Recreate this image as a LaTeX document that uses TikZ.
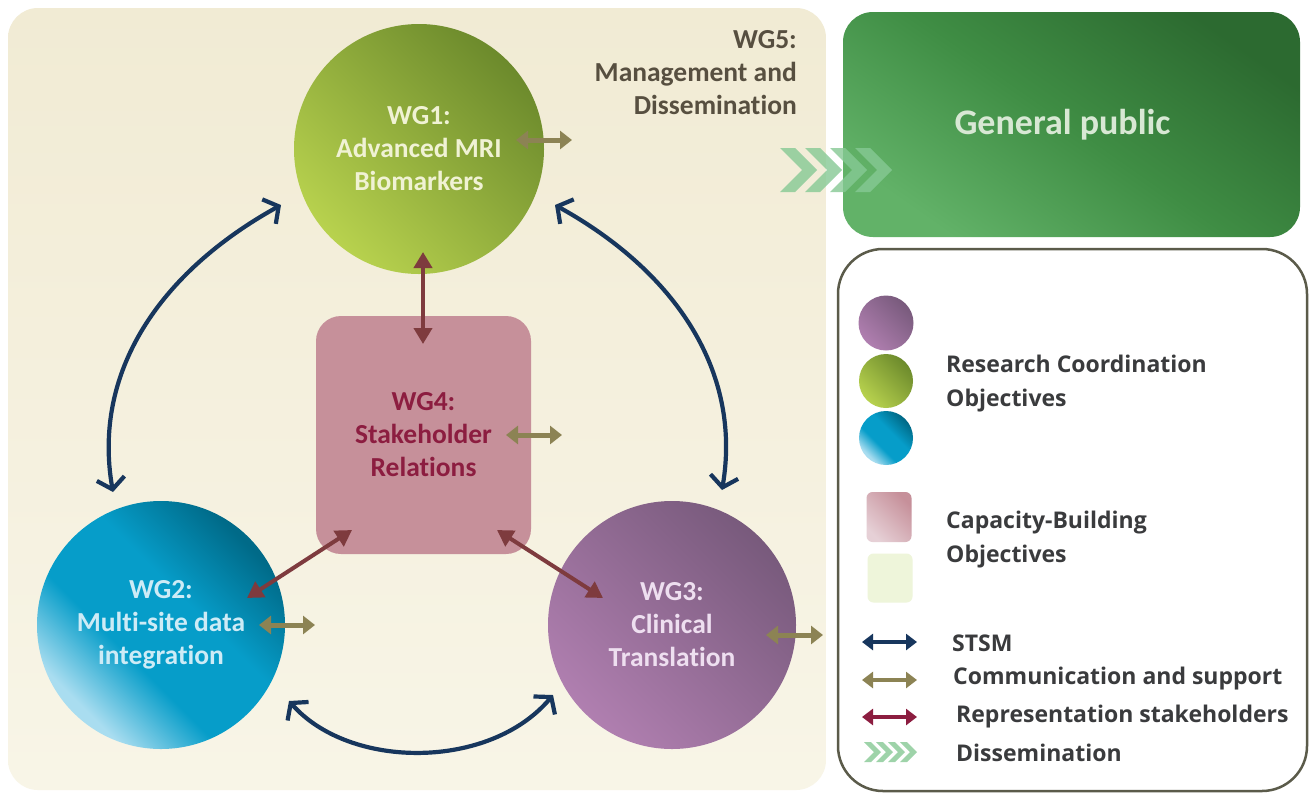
\documentclass[tikz,border=0pt]{standalone}
\usepackage{fontspec}
\setmainfont{Carlito}[Ligatures={NoCommon}]
\newfontfamily\legfam{Open Sans}[Ligatures={NoCommon}]
\usetikzlibrary{arrows.meta,shapes.geometric}
\definecolor{cream}{HTML}{F1EBD4}
\definecolor{creamlight}{HTML}{F8F5E7}
\definecolor{navy}{HTML}{17365D}
\definecolor{olivearr}{HTML}{8C8354}
\definecolor{maroonarr}{HTML}{7E3B3E}
\definecolor{crimson}{HTML}{8C1D40}
\definecolor{wgtext}{HTML}{F0F2D4}
\definecolor{wgtwotext}{HTML}{CDEBF6}
\definecolor{wgthreetext}{HTML}{EEDFF0}
\definecolor{wgfive}{HTML}{574F40}
\definecolor{legtext}{HTML}{3A3B3D}
\definecolor{greenD}{HTML}{6C8A2C}
\definecolor{greenL}{HTML}{B8D24E}
\definecolor{blueD}{HTML}{006A88}
\definecolor{blueM}{HTML}{069DC9}
\definecolor{blueL}{HTML}{A9DDF0}
\definecolor{purpD}{HTML}{785A7C}
\definecolor{purpL}{HTML}{B07FB0}
\definecolor{pinkbox}{HTML}{C6909A}
\definecolor{pinkL}{HTML}{E6D0D6}
\definecolor{gpD}{HTML}{2C6A30}
\definecolor{gpM}{HTML}{3F8D44}
\definecolor{gpL}{HTML}{62B268}
\definecolor{gptext}{HTML}{D8E8D4}
\definecolor{chev}{HTML}{86C994}
\definecolor{lightsq}{HTML}{EEF5DA}
\definecolor{legborder}{HTML}{5B5B4A}
\pgfdeclareverticalshading{bluesh}{100bp}{color(0bp)=(blueL); color(27bp)=(blueL); color(41bp)=(blueM); color(57bp)=(blueM); color(74bp)=(blueD); color(100bp)=(blueD)}
\tikzset{
  wgfont/.style={font=\fontsize{27.5}{33}\selectfont\bfseries, align=center},
  legfont/.style={font=\legfam\fontsize{23}{34}\selectfont\bfseries, text=legtext, anchor=west, align=left, inner sep=0pt},
  stsm/.style={draw=navy, line width=4.2pt, {Straight Barb[length=11pt,width=28pt]}-{Straight Barb[length=11pt,width=28pt]}},
  comm/.style={draw=olivearr, line width=5pt, {Triangle[length=12pt,width=18pt]}-{Triangle[length=12pt,width=18pt]}},
  repr/.style={draw=maroonarr, line width=4pt, {Triangle[length=16pt,width=18pt]}-{Triangle[length=16pt,width=18pt]}},
  legarrow/.style={line width=4.5pt, {Triangle[length=11pt,width=16pt]}-{Triangle[length=11pt,width=16pt]}},
  chevfill/.style={fill=chev, fill opacity=0.8},
  blueshade/.style={shading=bluesh, shading angle=-45}
}
\begin{document}
\begin{tikzpicture}[x=1pt,y=-1pt]
\useasboundingbox (0,0) rectangle (1312,796);
\fill[white] (0,0) rectangle (1312,796);
% background panel
\node[rectangle, rounded corners=30, minimum width=818, minimum height=782, top color=cream, bottom color=creamlight, inner sep=0pt] (panel) at (417,399) {};
% General public
\node[rectangle, rounded corners=30, minimum width=457, minimum height=225, top color=gpD, bottom color=gpL, middle color=gpM, shading angle=-35, text=gptext, font=\fontsize{36}{40}\selectfont\bfseries] (gp) at (1071.5,124.5) {\hspace{-18pt}General public};
% legend box
\node[rectangle, rounded corners=45, draw=legborder, line width=2.5pt, fill=white, minimum width=469, minimum height=542] (legend) at (1072.5,520) {};
% WG nodes
\node[circle, minimum size=250, inner sep=0pt, top color=greenD, bottom color=greenL, shading angle=-45, text=wgtext, wgfont] (wg1) at (419,149) {WG1:\\Advanced MRI\\Biomarkers};
\node[circle, minimum size=248, inner sep=0pt, blueshade, text=wgtwotext, wgfont] (wg2) at (161,625) {WG2:\\Multi-site data\\integration};
\node[circle, minimum size=248, inner sep=0pt, top color=purpD, bottom color=purpL, shading angle=-45, text=wgthreetext, wgfont] (wg3) at (672,625) {WG3:\\Clinical\\Translation};
\node[rectangle, rounded corners=25, minimum width=215, minimum height=238, fill=pinkbox, text=crimson, wgfont] (wg4) at (423.5,435) {WG4:\\Stakeholder\\Relations};
\node[anchor=north east, text=wgfive, wgfont, align=right, inner sep=0pt] (wg5) at (797,30) {WG5:\\Management and\\Dissemination};
% STSM arcs
\coordinate (a1) at (281,205); \coordinate (a2) at (113,492);
\coordinate (b1) at (555,205); \coordinate (b2) at (722,490);
\coordinate (c1) at (289,701); \coordinate (c2) at (553,695);
\draw[stsm] (a1) .. controls (160,272) and (92,372) .. (a2);
\draw[stsm] (b1) .. controls (676,272) and (742,372) .. (b2);
\draw[stsm] (c1) .. controls (350,770) and (490,770) .. (c2);
% representation arrows
\coordinate (r1a) at (423,252); \coordinate (r1b) at (423,344);
\coordinate (r2a) at (352,530); \coordinate (r2b) at (247,598);
\coordinate (r3a) at (497,530); \coordinate (r3b) at (603,598);
\draw[repr] (r1a) -- (r1b);
\draw[repr] (r2a) -- (r2b);
\draw[repr] (r3a) -- (r3b);
% communication arrows
\coordinate (m1a) at (516,140); \coordinate (m1b) at (572,140);
\coordinate (m4a) at (506,435); \coordinate (m4b) at (562,435);
\coordinate (m2a) at (259,625); \coordinate (m2b) at (315,625);
\coordinate (m3a) at (766,635); \coordinate (m3b) at (823,635);
\draw[comm] (m1a) -- (m1b);
\draw[comm] (m4a) -- (m4b);
\draw[comm] (m2a) -- (m2b);
\draw[comm] (m3a) -- (m3b);
% dissemination chevrons
\foreach \x in {780,805,830,855}{
  \fill[chevfill] (\x,148) -- (\x+15,148) -- (\x+37,170) -- (\x+15,192) -- (\x,192) -- (\x+22,170) -- cycle;
}
% legend content
\node[circle, minimum size=55, inner sep=0pt, top color=purpD, bottom color=purpL, shading angle=-45] (lc1) at (886,323) {};
\node[circle, minimum size=54, inner sep=0pt, top color=greenD, bottom color=greenL, shading angle=-45] (lc2) at (886,381) {};
\node[circle, minimum size=54, inner sep=0pt, blueshade] (lc3) at (886,438) {};
\node[rectangle, rounded corners=6, minimum width=45, minimum height=50, inner sep=0pt, top color=pinkbox, bottom color=pinkL, shading angle=-45] (ls1) at (889,517) {};
\node[rectangle, rounded corners=6, minimum width=45, minimum height=49, inner sep=0pt, fill=lightsq] (ls2) at (890,578) {};
\node[legfont] (lt1) at (946,384) {Research Coordination\\Objectives};
\node[legfont] (lt2) at (946,540) {Capacity-Building\\Objectives};
\node[legfont] (lt3) at (952,643) {STSM};
\node[legfont] (lt4) at (953,679) {Communication and support};
\node[legfont] (lt5) at (956,717) {Representation stakeholders};
\node[legfont] (lt6) at (956,753) {Dissemination};
\coordinate (l1a) at (862,642); \coordinate (l1b) at (917,642);
\coordinate (l2a) at (862,680); \coordinate (l2b) at (917,680);
\coordinate (l3a) at (862,717); \coordinate (l3b) at (917,717);
\draw[legarrow, draw=navy] (l1a) -- (l1b);
\draw[legarrow, draw=olivearr] (l2a) -- (l2b);
\draw[legarrow, draw=crimson] (l3a) -- (l3b);
\foreach \x in {864,876,888,900}{
  \fill[chevfill] (\x,742) -- (\x+7,742) -- (\x+17,752) -- (\x+7,762) -- (\x,762) -- (\x+10,752) -- cycle;
}
\end{tikzpicture}
\end{document}
